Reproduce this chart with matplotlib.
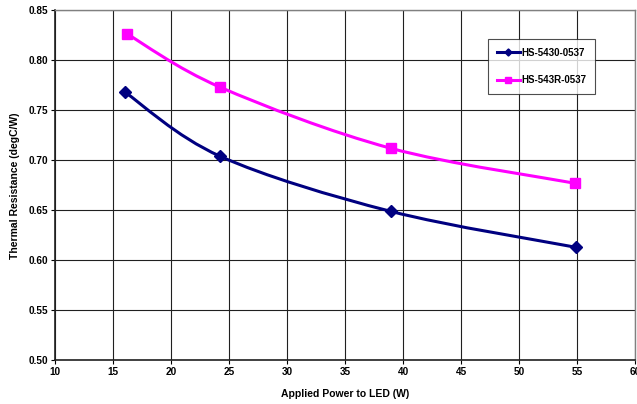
import numpy as np
import matplotlib
matplotlib.use("Agg")
import matplotlib.pyplot as plt
from matplotlib.path import Path
from matplotlib.patches import PathPatch
from matplotlib.lines import Line2D

plt.rcParams["font.family"] = ["Liberation Sans", "DejaVu Sans"]
plt.rcParams["font.weight"] = "bold"

# data
power_5430 = [16.0, 24.2, 38.9, 54.9]
res_5430 = [0.768, 0.704, 0.649, 0.613]
power_543r = [16.2, 24.2, 38.9, 54.8]
res_543r = [0.826, 0.773, 0.712, 0.677]

series = [
    ("HS-5430-0537", power_5430, res_5430, "#000080", "D", 6.0),
    ("HS-543R-0537", power_543r, res_543r, "#FF00FF", "s", 7.0),
]

x_ticks = [10, 15, 20, 25, 30, 35, 40, 45, 50, 55, 60]
y_ticks = [0.50, 0.55, 0.60, 0.65, 0.70, 0.75, 0.80, 0.85]


def smooth_path(xs, ys):
    # Excel-style smoothed line: Catmull-Rom segments as cubic beziers
    pts = np.column_stack([xs, ys])
    n = len(pts)
    verts = [pts[0]]
    codes = [Path.MOVETO]
    for i in range(n - 1):
        p0 = pts[max(i - 1, 0)]
        p1 = pts[i]
        p2 = pts[i + 1]
        p3 = pts[min(i + 2, n - 1)]
        verts += [p1 + (p2 - p0) / 6, p2 - (p3 - p1) / 6, p2]
        codes += [Path.CURVE4] * 3
    return Path(verts, codes)


fig = plt.figure(figsize=(6.37, 4.04), dpi=100)
ax = fig.add_axes([0.0868, 0.1077, 0.9105, 0.8675])

handles = []
for name, xs, ys, color, marker, ms in series:
    ax.add_patch(PathPatch(smooth_path(xs, ys), fill=False, edgecolor=color,
                           lw=2.2, zorder=3))
    ax.plot(xs, ys, ls="none", marker=marker, ms=ms, color=color, zorder=4)
    handles.append(Line2D([], [], color=color, lw=2.2, marker=marker,
                          ms=ms * 0.6, label=name))

ax.set_xlim(10, 60)
ax.set_ylim(0.50, 0.85)
ax.set_xticks(x_ticks)
ax.set_yticks(y_ticks)
ax.set_yticklabels([f"{v:.2f}" for v in y_ticks])
ax.tick_params(labelsize=7.2, length=3, width=0.8, direction="out", pad=2)
for lab in ax.get_xticklabels() + ax.get_yticklabels():
    lab.set_fontweight("bold")

ax.grid(True, color="#202020", lw=0.8)
ax.set_axisbelow(True)
for side in ["top", "right"]:
    ax.spines[side].set_color("#808080")
    ax.spines[side].set_linewidth(1.0)
for side in ["left", "bottom"]:
    ax.spines[side].set_color("#202020")
    ax.spines[side].set_linewidth(1.2)

ax.set_xlabel("Applied Power to LED (W)", fontsize=7.5, fontweight="bold", labelpad=8)
ax.set_ylabel("Thermal Resistance (degC/W)", fontsize=7.5, fontweight="bold", labelpad=6)

leg = ax.legend(handles=handles, loc="upper left", bbox_to_anchor=(0.746, 0.917),
                fontsize=7, frameon=True, fancybox=False, handlelength=2.4,
                handletextpad=0.1, labelspacing=1.8, borderpad=0.9,
                borderaxespad=0)
leg.get_frame().set_edgecolor("#202020")
leg.get_frame().set_linewidth(0.8)
for t in leg.get_texts():
    t.set_fontweight("bold")

fig.savefig("out.png", dpi=100)
